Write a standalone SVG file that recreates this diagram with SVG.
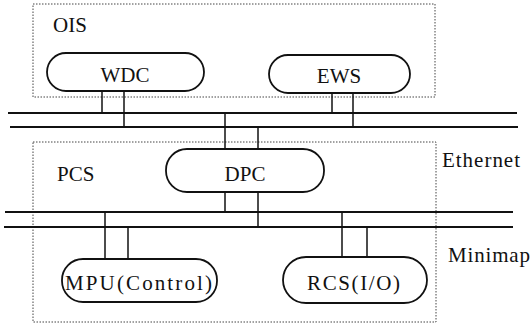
<svg xmlns="http://www.w3.org/2000/svg" width="532" height="332" viewBox="0 0 532 332">
  <style>
    .zone { fill: none; stroke: #444; stroke-width: 1; stroke-dasharray: 1.5 1.5; }
    .node { fill: #fff; stroke: #111; stroke-width: 1.8; }
    .bus { stroke: #111; stroke-width: 1.8; fill: none; }
    .tap { stroke: #111; stroke-width: 1.5; fill: none; }
    .c { text-anchor: middle; }
  </style>
  <rect width="532" height="332" fill="#fff"/>

  <g font-family="Liberation Serif, DejaVu Serif, serif" font-size="21" fill="#111">
  <!-- zones -->
  <g id="zone-ois">
    <rect class="zone" x="33" y="4" width="402" height="93"/>
    <text x="53" y="32">OIS</text>
  </g>
  <g id="zone-pcs">
    <rect class="zone" x="33" y="142" width="403" height="180"/>
    <text x="57" y="181">PCS</text>
  </g>

  <!-- buses and drop lines -->
  <g id="connectors">
    <line class="bus" x1="8" y1="113" x2="517" y2="113"/>
    <line class="bus" x1="10" y1="127" x2="518" y2="127"/>
    <line class="bus" x1="5" y1="212" x2="513" y2="212"/>
    <line class="bus" x1="4" y1="227" x2="513" y2="227"/>
    <!-- WDC -->
    <line class="tap" x1="102" y1="91" x2="102" y2="113"/>
    <line class="tap" x1="124" y1="91" x2="124" y2="127"/>
    <!-- EWS -->
    <line class="tap" x1="332" y1="93" x2="332" y2="113"/>
    <line class="tap" x1="353" y1="93" x2="353" y2="127"/>
    <!-- DPC -->
    <line class="tap" x1="225" y1="113" x2="225" y2="212"/>
    <line class="tap" x1="258" y1="127" x2="258" y2="227"/>
    <!-- MPU -->
    <line class="tap" x1="105" y1="212" x2="105" y2="259"/>
    <line class="tap" x1="128" y1="227" x2="128" y2="259"/>
    <!-- RCS -->
    <line class="tap" x1="342" y1="212" x2="342" y2="257"/>
    <line class="tap" x1="367" y1="227" x2="367" y2="257"/>
  </g>

  <!-- nodes -->
  <g id="node-wdc">
    <rect class="node" x="47" y="53" width="157" height="38" rx="19"/>
    <text class="c" x="125" y="82">WDC</text>
  </g>
  <g id="node-ews">
    <rect class="node" x="269" y="55" width="141" height="38" rx="19"/>
    <text class="c" x="339" y="83">EWS</text>
  </g>
  <g id="node-dpc">
    <rect class="node" x="166" y="149" width="158" height="43" rx="21"/>
    <text class="c" x="245" y="181">DPC</text>
  </g>
  <g id="node-mpu">
    <rect class="node" x="62" y="259" width="155" height="43" rx="21"/>
    <text x="65" y="290" textLength="147" lengthAdjust="spacing">MPU(Control)</text>
  </g>
  <g id="node-rcs">
    <rect class="node" x="283" y="257" width="144" height="46" rx="23"/>
    <text x="307" y="290" textLength="93" lengthAdjust="spacing">RCS(I/O)</text>
  </g>

  <!-- network labels -->
  <g id="label-ethernet">
    <text x="442" y="167" textLength="78" lengthAdjust="spacing">Ethernet</text>
  </g>
  <g id="label-minimap">
    <text x="448" y="262" textLength="82" lengthAdjust="spacing">Minimap</text>
  </g>
  </g>
</svg>
